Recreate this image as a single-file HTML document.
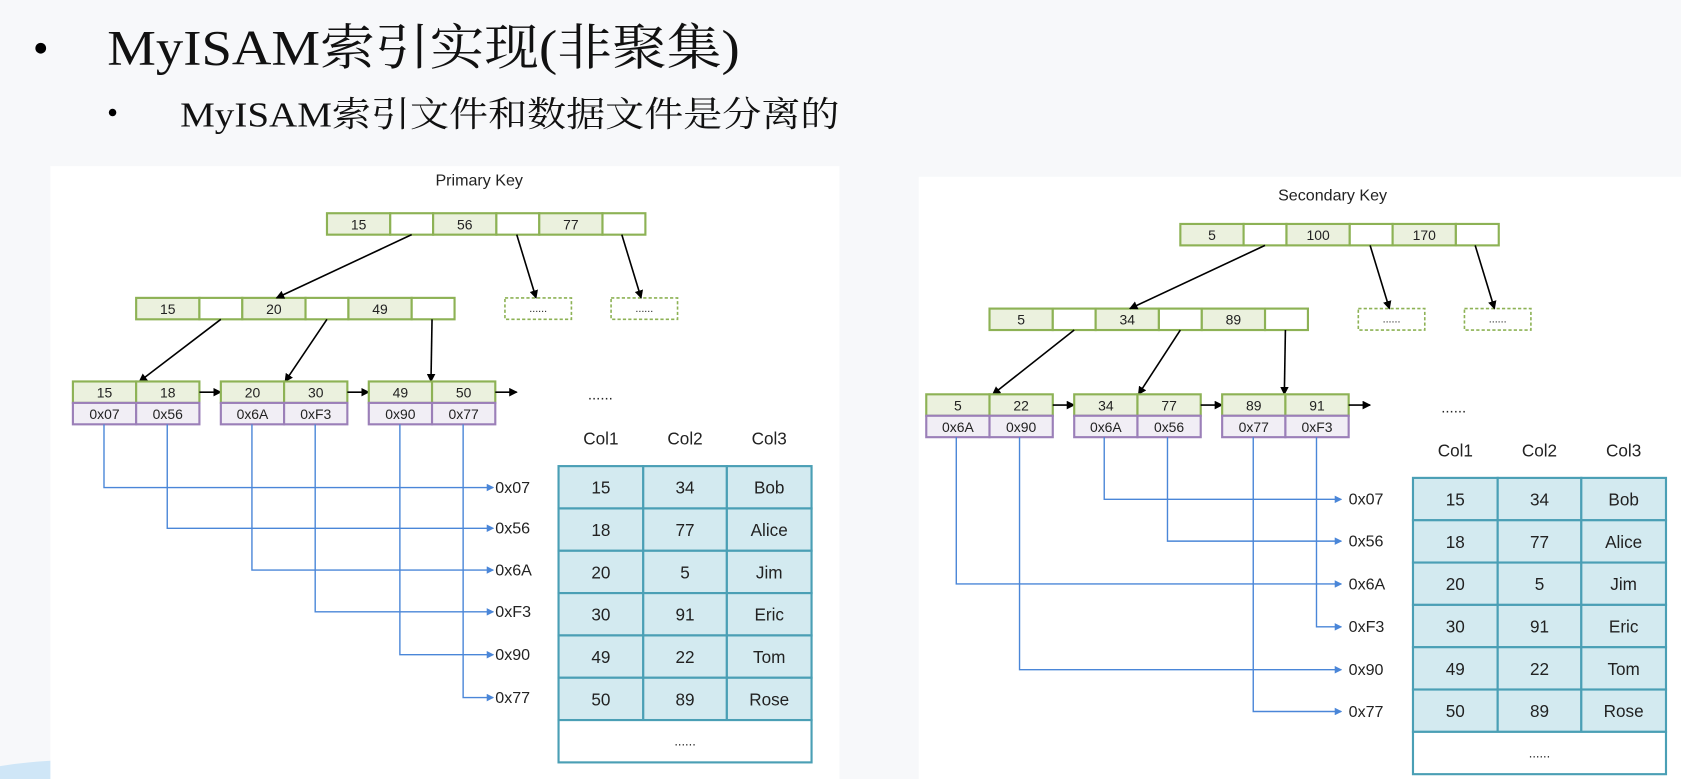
<!DOCTYPE html>
<html><head><meta charset="utf-8">
<style>
html,body{margin:0;padding:0;background:#f7f8fa;}
svg{display:block;}
text{font-family:"Liberation Sans","DejaVu Sans",sans-serif;}
.t{font-family:"Liberation Serif","Noto Serif CJK SC",serif;fill:#111;}
</style></head>
<body>
<svg id="s" width="1681" height="779" viewBox="0 0 1568 727" preserveAspectRatio="none" xmlns="http://www.w3.org/2000/svg">
<defs>
<marker id="ab" markerWidth="8" markerHeight="8" refX="7" refY="4" orient="auto" markerUnits="userSpaceOnUse"><path d="M0,0 L8,4 L0,8 z" fill="#000"/></marker>
<marker id="au" markerWidth="7" markerHeight="7" refX="6" refY="3.5" orient="auto" markerUnits="userSpaceOnUse"><path d="M0,0 L7,3.5 L0,7 z" fill="#4a86d8"/></marker>
</defs>
<rect width="1568" height="727" fill="#f7f8fa"/>
<path d="M0,727 L0,715 Q60,705 140,712 L160,727 z" fill="#cfe6f7"/>
<circle cx="38" cy="45" r="5" fill="#000"/>
<text class="t" x="100" y="60" font-size="46" textLength="590" lengthAdjust="spacingAndGlyphs">MyISAM索引实现(非聚集)</text>
<circle cx="105" cy="105" r="3.5" fill="#000"/>
<text class="t" x="168" y="118" font-size="33" textLength="615" lengthAdjust="spacingAndGlyphs">MyISAM索引文件和数据文件是分离的</text>
<rect x="47" y="155" width="736" height="572" fill="#fff"/>
<rect x="857" y="165" width="711" height="562" fill="#fff"/>
<g id="g"></g>
</svg>
<script>
var NS="http://www.w3.org/2000/svg",G=document.getElementById('g');
function el(n,a,t){var e=document.createElementNS(NS,n);for(var k in a)e.setAttribute(k,a[k]);if(t!==undefined)e.textContent=t;G.appendChild(e);return e;}
function txt(x,y,s,sz,c){el('text',{x:x,y:y,'font-size':sz||13,'text-anchor':'middle',fill:c||'#222'},s);}
function node(x,y,keys){ // internal node
  var cx=x;
  keys.forEach(function(k){
    el('rect',{x:cx,y:y,width:59,height:20,fill:'#ebf1de',stroke:'#8db255','stroke-width':2});
    txt(cx+29.5,y+15,k,13);
    el('rect',{x:cx+59,y:y,width:40,height:20,fill:'#fff',stroke:'#8db255','stroke-width':2});
    cx+=99;
  });
}
function dots(x,y){el('rect',{x:x,y:y,width:62,height:20,fill:'#fff',stroke:'#8db255','stroke-width':1.5,'stroke-dasharray':'3,2'});txt(x+31,y+13,'......',10);}
function leaf(x,y,k,p){
  for(var i=0;i<2;i++){
    el('rect',{x:x+i*59,y:y,width:59,height:20,fill:'#ebf1de',stroke:'#8db255','stroke-width':2});
    txt(x+i*59+29.5,y+15,k[i],13);
    el('rect',{x:x+i*59,y:y+20,width:59,height:20,fill:'#f1eef5',stroke:'#9b7fb8','stroke-width':2});
    txt(x+i*59+29.5,y+35,p[i],13);
  }
}
function arr(x1,y1,x2,y2){el('line',{x1:x1,y1:y1,x2:x2,y2:y2,stroke:'#000','stroke-width':1.5,'marker-end':'url(#ab)'});}
function blue(x,y0,y1,x2){el('path',{d:'M'+x+','+y0+' L'+x+','+y1+' L'+x2+','+y1,fill:'none',stroke:'#4a86d8','stroke-width':1.3,'marker-end':'url(#au)'});}
function table(x,y0,hy,rowH){
  var cols=[x,x+79,x+157,x+236];
  ['Col1','Col2','Col3'].forEach(function(c,i){txt((cols[i]+cols[i+1])/2,hy,c,16);});
  var data=[['15','34','Bob'],['18','77','Alice'],['20','5','Jim'],['30','91','Eric'],['49','22','Tom'],['50','89','Rose']];
  data.forEach(function(r,j){
    var y=y0+j*rowH;
    for(var i=0;i<3;i++){
      el('rect',{x:cols[i],y:y,width:cols[i+1]-cols[i],height:rowH,fill:'#d3eaf0',stroke:'#4a9fb5','stroke-width':2});
      txt((cols[i]+cols[i+1])/2,y+rowH/2+6,r[i],16);
    }
  });
  var yb=y0+6*rowH;
  el('rect',{x:x,y:yb,width:236,height:rowH,fill:'#fff',stroke:'#4a9fb5','stroke-width':2});
  txt(x+118,yb+rowH/2+4,'......',12);
}
function diagram(dx,dy,title,rk,lk,leaves,ltx,lty,lines,labels,tx,ty){
  txt(447+dx,173+dy-(dx?-4:0),title,15,'#222');
  node(305+dx,199+dy,rk);
  node(127+dx,278+dy,lk);
  dots(471+dx,278+dy);dots(570+dx,278+dy);
  arr(384+dx,219+dy,258+dx,278+dy);arr(482+dx,219+dy,500+dx,278+dy);arr(580+dx,219+dy,598+dx,278+dy);
  arr(206+dx,298+dy,130+dx,356+dy+ltx);arr(305+dx,298+dy,266+dx,356+dy+ltx);arr(403+dx,298+dy,402+dx,356+dy+ltx);
  var ly=356+dy+ltx;
  leaves.forEach(function(L,i){
    var x=68+dx+i*138;leaf(x,ly,L[0],L[1]);
    arr(x+118,ly+10,x+138,ly+10);
  });
  txt(560+dx,ly+17,'......',14);
  lines.forEach(function(l){blue(l[0],ly+40,l[1],l[2]);});
  labels.forEach(function(l){el('text',{x:l[0],y:l[1]+5,'font-size':15,fill:'#222'},l[2]);});
  table(tx,ty,ty-20,39.5);
}
diagram(0,0,'Primary Key',['15','56','77'],['15','20','49'],
 [[['15','18'],['0x07','0x56']],[['20','30'],['0x6A','0xF3']],[['49','50'],['0x90','0x77']]],0,0,
 [[97,455,460],[156,493,460],[235,532,460],[294,571,460],[373,611,460],[432,651,460]],
 [[462,455,'0x07'],[462,493,'0x56'],[462,532,'0x6A'],[462,571,'0xF3'],[462,611,'0x90'],[462,651,'0x77']],
 521,435);
diagram(796,10,'Secondary Key',['5','100','170'],['5','34','89'],
 [[['5','22'],['0x6A','0x90']],[['34','77'],['0x6A','0x56']],[['89','91'],['0x77','0xF3']]],2,0,
 [[892,545,1251],[951,625,1251],[1030,466,1251],[1089,505,1251],[1169,664,1251],[1228,585,1251]],
 [[1258,466,'0x07'],[1258,505,'0x56'],[1258,545,'0x6A'],[1258,585,'0xF3'],[1258,625,'0x90'],[1258,664,'0x77']],
 1318,446);
</script>
</body></html>
